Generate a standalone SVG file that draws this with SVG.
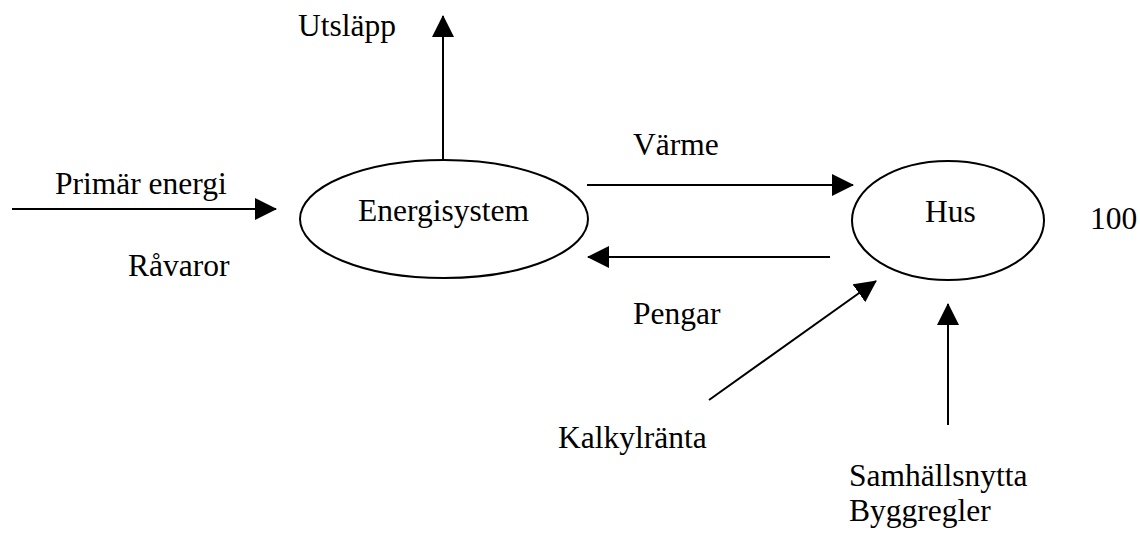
<svg xmlns="http://www.w3.org/2000/svg" width="1140" height="534" viewBox="0 0 1140 534">
<style>
text{font-family:"Liberation Serif","Times New Roman",serif;font-size:31.5px;fill:#000}
.node{fill:#fff;stroke:#000;stroke-width:2}
.c{stroke:#000;stroke-width:2;fill:none;marker-end:url(#ah)}
</style>
<defs>
<marker id="ah" markerWidth="22" markerHeight="22" viewBox="0 0 22 22" refX="21" refY="11" orient="auto" markerUnits="userSpaceOnUse">
<path d="M0,0 L22,11 L0,22 Z" fill="#000"/>
</marker>
</defs>
<rect width="1140" height="534" fill="#fff"/>
<g id="connectors">
<line class="c" x1="443" y1="160" x2="443" y2="16"/>
<line class="c" x1="12" y1="209" x2="276" y2="209"/>
<line class="c" x1="587" y1="185" x2="853" y2="185"/>
<line class="c" x1="830" y1="257" x2="588" y2="257"/>
<line class="c" x1="709" y1="400" x2="876" y2="281"/>
<line class="c" x1="948" y1="425" x2="948" y2="304"/>
</g>
<g id="energisystem">
<ellipse class="node" cx="444" cy="219" rx="144" ry="59"/>
<text x="358" y="221">Energisystem</text>
</g>
<g id="hus">
<ellipse class="node" cx="948" cy="220.5" rx="96" ry="59.5"/>
<text x="925" y="222">Hus</text>
</g>
<g id="labels">
<text x="298" y="36">Utsläpp</text>
<text x="55" y="194">Primär energi</text>
<text x="128" y="276">Råvaror</text>
<text x="633" y="155">Värme</text>
<text x="633" y="324">Pengar</text>
<text x="1090" y="229">100</text>
<text x="558" y="448">Kalkylränta</text>
<text x="849" y="486">Samhällsnytta</text>
<text x="849" y="521">Byggregler</text>
</g>
</svg>
